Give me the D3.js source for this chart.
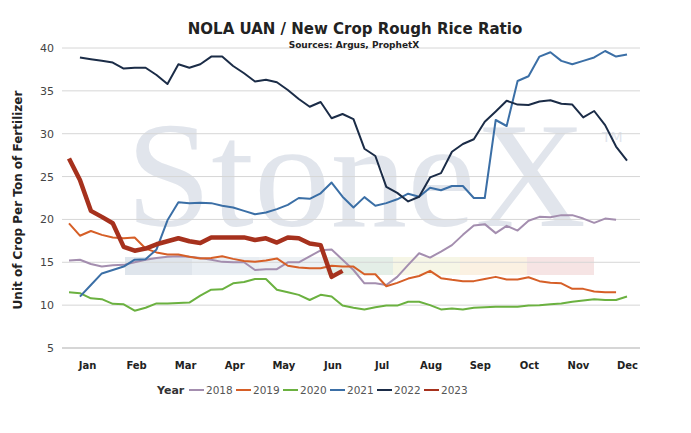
<!DOCTYPE html>
<html>
<head>
<meta charset="utf-8">
<script src="https://cdn.jsdelivr.net/npm/d3@7"></script>
<style>
  body { margin: 0; background: #fff; }
  text { font-family: "DejaVu Sans", Verdana, sans-serif; }
</style>
</head>
<body>
<div id="chart"></div>
<script>
var svgWidth = 691;
var svgHeight = 433;

// weekly data, week index 0..51
var months = ["Jan", "Feb", "Mar", "Apr", "May", "Jun", "Jul", "Aug", "Sep", "Oct", "Nov", "Dec"];
var yTicks = [5, 10, 15, 20, 25, 30, 35, 40];

var y2018 = [15.2, 15.3, 14.8, 14.5, 14.65, 14.7, 15.0, 15.3, 15.5, 15.65, 15.7, 15.65, 15.5, 15.3, 15.05, 15.0, 15.0, 14.1, 14.2, 14.2, 15.0, 15.0, 15.7, 16.4, 16.5, 15.3,
  14.1, 12.55, 12.55, 12.35, 13.3, 14.7, 16.05, 15.55, 16.25, 17.0, 18.2, 19.3, 19.45, 18.4, 19.25, 18.7, 19.85, 20.3, 20.25, 20.5, 20.5, 20.1, 19.6, 20.1, 19.95];
var y2019 = [19.55, 18.1, 18.65, 18.2, 17.9, 17.8, 17.9, 16.6, 16.15, 15.9, 15.9, 15.65, 15.45, 15.5, 15.7, 15.4, 15.15, 15.05, 15.2, 15.45, 14.6, 14.4, 14.3, 14.3, 14.6, 14.5,
  14.5, 13.6, 13.6, 12.2, 12.6, 13.1, 13.4, 14.0, 13.15, 12.95, 12.8, 12.8, 13.05, 13.3, 13.0, 13.0, 13.25, 12.8, 12.6, 12.55, 11.9, 11.9, 11.6, 11.5, 11.5];
var y2020 = [11.5, 11.4, 10.8, 10.7, 10.15, 10.1, 9.35, 9.7, 10.2, 10.2, 10.25, 10.3, 11.1, 11.8, 11.85, 12.55, 12.7, 13.05, 13.05, 11.8, 11.5, 11.2, 10.6, 11.2, 11.0, 9.95,
  9.7, 9.5, 9.75, 9.95, 9.95, 10.4, 10.4, 10.0, 9.5, 9.6, 9.5, 9.7, 9.75, 9.8, 9.8, 9.8, 9.95, 10.0, 10.1, 10.2, 10.4, 10.55, 10.7, 10.6, 10.6, 11.0];
var y2021 = [null, 11.0, 12.35, 13.7, 14.1, 14.5, 15.3, 15.35, 16.5, 19.9, 22.0, 21.9, 21.95, 21.9, 21.6, 21.4, 21.0, 20.6, 20.8, 21.2, 21.7, 22.5, 22.4, 23.05, 24.3, 22.65,
  21.4, 22.6, 21.6, 21.9, 22.35, 23.0, 22.65, 23.7, 23.4, 23.9, 23.9, 22.5, 22.5, 31.6, 30.9, 36.15, 36.7, 39.0, 39.5, 38.5, 38.1, 38.5, 38.9, 39.65, 39.0, 39.25];
var y2022 = [null, 38.9, 38.7, 38.5, 38.3, 37.6, 37.7, 37.7, 36.85, 35.8, 38.1, 37.7, 38.1, 39.0, 39.0, 37.9, 37.05, 36.1, 36.3, 36.0, 35.1, 34.05, 33.15, 33.7, 31.8, 32.3,
  31.7, 28.25, 27.4, 23.8, 23.1, 22.1, 22.65, 24.9, 25.4, 27.9, 28.8, 29.35, 31.4, 32.6, 33.85, 33.4, 33.35, 33.75, 33.9, 33.5, 33.4, 31.9, 32.65, 31.0, 28.5, 26.85];
var y2023 = [27.1, 24.6, 21.0, 20.3, 19.55, 16.8, 16.35, 16.6, 17.1, 17.45, 17.8, 17.45, 17.25, 17.9, 17.9, 17.9, 17.9, 17.6, 17.8, 17.3, 17.9, 17.8, 17.2, 17.0, 13.3, 14.0];

var years = ["2018", "2019", "2020", "2021", "2022", "2023"];
var seriesValues = [y2018, y2019, y2020, y2021, y2022, y2023];
var colors = ["#a48eaf", "#d65f27", "#6bb140", "#3b6fa6", "#1b2c47", "#a6311d"];

var margin = { top: 48, right: 60, bottom: 85, left: 62 };

var svg = d3.select("#chart").append("svg")
    .attr("width", svgWidth)
    .attr("height", svgHeight);

var x = d3.scaleLinear().domain([0, 51]).range([69, 627]);
var y = d3.scaleLinear().domain([5, 40]).range([348, 48]);
var xMonth = d3.scalePoint().domain(months).range([87, 627]);

// watermark logo bar
var bandColors = ["#dfe5ec", "#e9eef3", "#edf1f4", "#e4eee7", "#f6f6e6", "#fbf1e2", "#f6e4e4"];
svg.append("g").selectAll("rect")
    .data(bandColors)
    .enter().append("rect")
    .attr("x", (d, i) => 125 + i * 67)
    .attr("y", 257)
    .attr("width", 67)
    .attr("height", 18)
    .attr("fill", d => d);

svg.append("text")
    .attr("x", 126).attr("y", 226)
    .attr("textLength", 460)
    .attr("lengthAdjust", "spacingAndGlyphs")
    .style("font-family", "'Liberation Serif', 'DejaVu Serif', serif")
    .style("font-size", "150px")
    .attr("fill", "#e1e5ec")
    .text("StoneX");
svg.append("text")
    .attr("x", 602).attr("y", 142)
    .style("font-size", "14px")
    .attr("fill", "#e1e5ec")
    .text("TM");

// grid
svg.append("g").selectAll("line")
    .data(yTicks)
    .enter().append("line")
    .attr("x1", margin.left).attr("x2", 640)
    .attr("y1", d => y(d)).attr("y2", d => y(d))
    .attr("stroke", "#d6d6d6")
    .attr("stroke-width", d => d === 5 ? 2 : 1);

var leftAxis = d3.axisLeft(y).tickValues(yTicks).tickSize(0).tickPadding(8);
svg.append("g")
    .attr("transform", `translate(${margin.left}, 0)`)
    .call(leftAxis)
    .call(g => g.select(".domain").remove())
    .selectAll("text")
    .style("font-size", "11px")
    .attr("fill", "#444");

var bottomAxis = d3.axisBottom(xMonth).tickSize(0).tickPadding(0);
svg.append("g")
    .attr("transform", "translate(0, 362)")
    .call(bottomAxis)
    .call(g => g.select(".domain").remove())
    .selectAll("text")
    .style("font-size", "10px")
    .style("font-weight", "bold")
    .attr("fill", "#222");

// lines
var line = d3.line()
    .defined(d => d.v != null)
    .x(d => x(d.w))
    .y(d => y(d.v));

svg.append("g").selectAll("path")
    .data(seriesValues)
    .enter().append("path")
    .attr("d", vals => line(vals.map((v, i) => ({ w: i, v: v }))))
    .attr("fill", "none")
    .attr("stroke", (d, i) => colors[i])
    .attr("stroke-width", (d, i) => i === 5 ? 4.5 : 2)
    .attr("stroke-linejoin", "round");

// titles
svg.append("text")
    .attr("x", 355).attr("y", 34)
    .attr("text-anchor", "middle")
    .style("font-size", "15px")
    .style("font-weight", "bold")
    .attr("fill", "#222")
    .text("NOLA UAN / New Crop Rough Rice Ratio");
svg.append("text")
    .attr("x", 354).attr("y", 48)
    .attr("text-anchor", "middle")
    .style("font-size", "9px")
    .style("font-weight", "bold")
    .attr("fill", "#222")
    .text("Sources: Argus, ProphetX");

svg.append("text")
    .attr("transform", "rotate(-90)")
    .attr("x", -200).attr("y", 22)
    .attr("text-anchor", "middle")
    .style("font-size", "12px")
    .style("font-weight", "bold")
    .attr("fill", "#222")
    .text("Unit of Crop Per Ton of Fertilizer");

// legend
var legend = svg.append("g").attr("transform", "translate(157, 390)");
legend.append("text")
    .attr("x", 0).attr("y", 4)
    .style("font-size", "11px")
    .style("font-weight", "bold")
    .attr("fill", "#333")
    .text("Year");
var items = legend.selectAll("g.item")
    .data(years)
    .enter().append("g")
    .attr("class", "item")
    .attr("transform", (d, i) => `translate(${32 + i * 47}, 0)`);
items.append("line")
    .attr("x1", 0).attr("x2", 15)
    .attr("y1", 0).attr("y2", 0)
    .attr("stroke", (d, i) => colors[i])
    .attr("stroke-width", 2);
items.append("text")
    .attr("x", 17).attr("y", 4)
    .style("font-size", "10.5px")
    .attr("fill", "#555")
    .text(d => d);
</script>
</body>
</html>
